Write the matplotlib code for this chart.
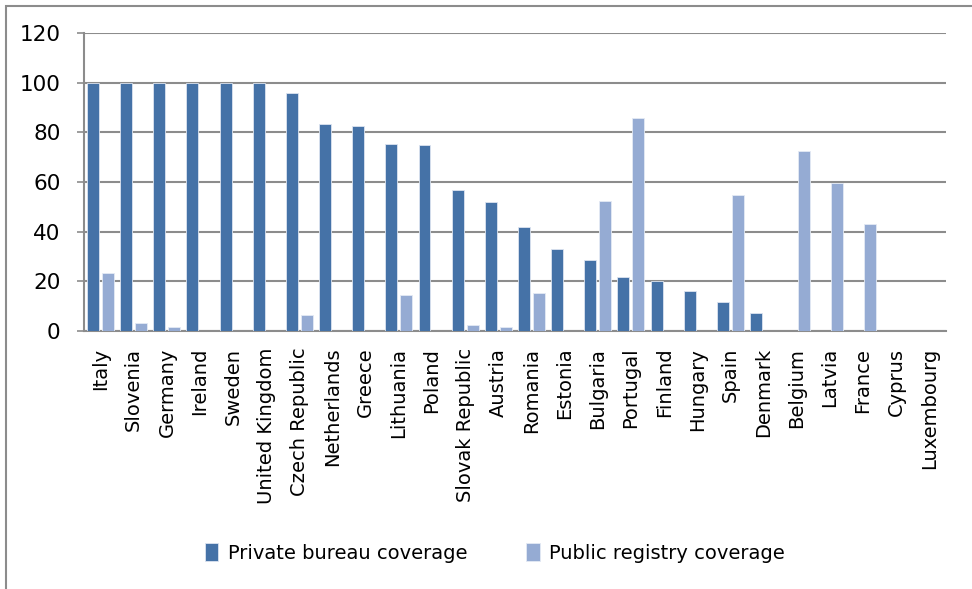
import numpy as np
import matplotlib
matplotlib.use("Agg")
import matplotlib.pyplot as plt
from matplotlib.patches import Rectangle

countries = ["Italy", "Slovenia", "Germany", "Ireland", "Sweden", "United Kingdom",
             "Czech Republic", "Netherlands", "Greece", "Lithuania", "Poland",
             "Slovak Republic", "Austria", "Romania", "Estonia", "Bulgaria",
             "Portugal", "Finland", "Hungary", "Spain", "Denmark", "Belgium",
             "Latvia", "France", "Cyprus", "Luxembourg"]
private_bureau = [100, 100, 100, 100, 100, 100, 95.7, 83.3, 82.5, 75.5, 74.8,
                  56.6, 51.8, 41.8, 33.1, 28.6, 21.6, 20.0, 16.2, 11.8, 7.1,
                  0, 0, 0, 0, 0]
public_registry = [23.2, 3.4, 1.6, 0, 0, 0, 6.5, 0, 0, 14.6, 0,
                   2.6, 1.5, 15.4, 0, 52.5, 85.6, 0, 0, 54.9, 0,
                   72.6, 59.7, 43.2, 0, 0]

dark = "#4572A7"
light = "#95ABD3"
grid_c = "#8C8C8C"

fig = plt.figure(figsize=(9.72, 5.89), dpi=100)
ax = fig.add_axes([84 / 972, 1 - 331 / 589, (946 - 84) / 972, (331 - 33) / 589])

x = np.arange(len(countries))
w = 0.36
ax.bar(x - 0.23, private_bureau, w, color=dark, edgecolor="#DCE4F0", linewidth=0.6,
       label="Private bureau coverage", zorder=3)
ax.bar(x + 0.22, public_registry, w, color=light, edgecolor="#E4EAF4", linewidth=0.6,
       label="Public registry coverage", zorder=3)

ax.set_xlim(-0.5, len(countries) - 0.5)
ax.set_ylim(0, 120)
ax.set_yticks(range(0, 121, 20))
ax.yaxis.grid(True, color=grid_c, linewidth=1.5, zorder=0)
ax.set_axisbelow(True)

for s in ["top", "right"]:
    ax.spines[s].set_visible(False)
for s in ["left", "bottom"]:
    ax.spines[s].set_color(grid_c)
    ax.spines[s].set_linewidth(1.5)

ax.set_xticks(x)
ax.set_xticklabels(countries, rotation=90, fontsize=14, va="top", ha="center")
ax.tick_params(axis="x", length=0, pad=12)
ax.tick_params(axis="y", length=5, color=grid_c, width=1.2, labelsize=15.5, pad=12)

fig.legend(loc="center", bbox_to_anchor=(495 / 972, 1 - 553 / 589), ncol=2,
           frameon=False, fontsize=14, handlelength=0.7, handleheight=1.0,
           columnspacing=3.0, handletextpad=0.5)

fig.patches.append(Rectangle((6 / 972, -0.1), 1.2, 1 - 6 / 589 + 0.1,
                             transform=fig.transFigure, fill=False,
                             edgecolor=grid_c, linewidth=1.5))

plt.savefig("out.png", dpi=100)
